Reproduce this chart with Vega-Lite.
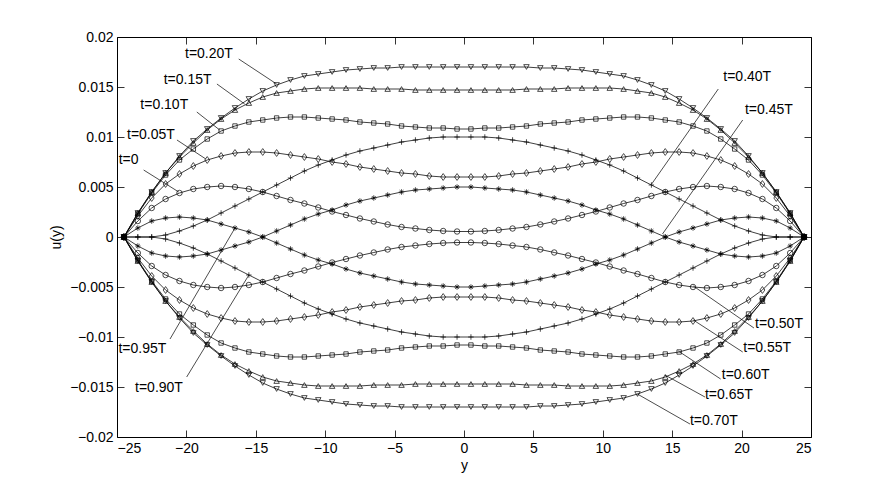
{
"$schema":"https://vega.github.io/schema/vega-lite/v6.json",
"width":694,"height":400,
"autosize":{"type":"none"},
"padding":{"left":117,"top":37,"right":85,"bottom":54},
"background":"white",
"config":{"view":{"stroke":"#000","strokeWidth":1},"axis":{"grid":false,"domain":false,"tickColor":"#000","labelColor":"#000","titleColor":"#000","labelFont":"Liberation Sans","titleFont":"Liberation Sans","labelFontSize":14,"titleFontSize":14,"titleFontWeight":"normal","tickWidth":0.8}},
"resolve":{"axis":{"x":"independent","y":"independent"}},
"datasets":{"curves":[
{"c":"00","y":-24.5,"u":0},{"c":"00","y":-23.5,"u":0.0016},{"c":"00","y":-22.5,"u":0.0029},{"c":"00","y":-21.5,"u":0.0038},{"c":"00","y":-20.5,"u":0.0044},{"c":"00","y":-19.5,"u":0.0048},{"c":"00","y":-18.5,"u":0.005},{"c":"00","y":-17.5,"u":0.0051},{"c":"00","y":-16.5,"u":0.005},{"c":"00","y":-15.5,"u":0.0048},{"c":"00","y":-14.5,"u":0.0045},{"c":"00","y":-13.5,"u":0.0041},{"c":"00","y":-12.5,"u":0.0037},{"c":"00","y":-11.5,"u":0.00335},{"c":"00","y":-10.5,"u":0.00295},{"c":"00","y":-9.5,"u":0.00255},{"c":"00","y":-8.5,"u":0.0022},{"c":"00","y":-7.5,"u":0.00185},{"c":"00","y":-6.5,"u":0.00155},{"c":"00","y":-5.5,"u":0.00125},{"c":"00","y":-4.5,"u":0.001},{"c":"00","y":-3.5,"u":0.00085},{"c":"00","y":-2.5,"u":0.0007},{"c":"00","y":-1.5,"u":0.0006},{"c":"00","y":-0.5,"u":0.00055},
{"c":"00","y":0.5,"u":0.00055},{"c":"00","y":1.5,"u":0.0006},{"c":"00","y":2.5,"u":0.0007},{"c":"00","y":3.5,"u":0.00085},{"c":"00","y":4.5,"u":0.001},{"c":"00","y":5.5,"u":0.00125},{"c":"00","y":6.5,"u":0.00155},{"c":"00","y":7.5,"u":0.00185},{"c":"00","y":8.5,"u":0.0022},{"c":"00","y":9.5,"u":0.00255},{"c":"00","y":10.5,"u":0.00295},{"c":"00","y":11.5,"u":0.00335},{"c":"00","y":12.5,"u":0.0037},{"c":"00","y":13.5,"u":0.0041},{"c":"00","y":14.5,"u":0.0045},{"c":"00","y":15.5,"u":0.0048},{"c":"00","y":16.5,"u":0.005},{"c":"00","y":17.5,"u":0.0051},{"c":"00","y":18.5,"u":0.005},{"c":"00","y":19.5,"u":0.0048},{"c":"00","y":20.5,"u":0.0044},{"c":"00","y":21.5,"u":0.0038},{"c":"00","y":22.5,"u":0.0029},{"c":"00","y":23.5,"u":0.0016},{"c":"00","y":24.5,"u":0},
{"c":"05","y":-24.5,"u":0},{"c":"05","y":-23.5,"u":0.0021},{"c":"05","y":-22.5,"u":0.0039},{"c":"05","y":-21.5,"u":0.0053},{"c":"05","y":-20.5,"u":0.0063},{"c":"05","y":-19.5,"u":0.0071},{"c":"05","y":-18.5,"u":0.0077},{"c":"05","y":-17.5,"u":0.0081},{"c":"05","y":-16.5,"u":0.0084},{"c":"05","y":-15.5,"u":0.0085},{"c":"05","y":-14.5,"u":0.0085},{"c":"05","y":-13.5,"u":0.0084},{"c":"05","y":-12.5,"u":0.0082},{"c":"05","y":-11.5,"u":0.008},{"c":"05","y":-10.5,"u":0.0078},{"c":"05","y":-9.5,"u":0.0075},{"c":"05","y":-8.5,"u":0.0073},{"c":"05","y":-7.5,"u":0.007},{"c":"05","y":-6.5,"u":0.0068},{"c":"05","y":-5.5,"u":0.0066},{"c":"05","y":-4.5,"u":0.0064},{"c":"05","y":-3.5,"u":0.0063},{"c":"05","y":-2.5,"u":0.0061},{"c":"05","y":-1.5,"u":0.006},{"c":"05","y":-0.5,"u":0.006},
{"c":"05","y":0.5,"u":0.006},{"c":"05","y":1.5,"u":0.006},{"c":"05","y":2.5,"u":0.0061},{"c":"05","y":3.5,"u":0.0063},{"c":"05","y":4.5,"u":0.0064},{"c":"05","y":5.5,"u":0.0066},{"c":"05","y":6.5,"u":0.0068},{"c":"05","y":7.5,"u":0.007},{"c":"05","y":8.5,"u":0.0073},{"c":"05","y":9.5,"u":0.0075},{"c":"05","y":10.5,"u":0.0078},{"c":"05","y":11.5,"u":0.008},{"c":"05","y":12.5,"u":0.0082},{"c":"05","y":13.5,"u":0.0084},{"c":"05","y":14.5,"u":0.0085},{"c":"05","y":15.5,"u":0.0085},{"c":"05","y":16.5,"u":0.0084},{"c":"05","y":17.5,"u":0.0081},{"c":"05","y":18.5,"u":0.0077},{"c":"05","y":19.5,"u":0.0071},{"c":"05","y":20.5,"u":0.0063},{"c":"05","y":21.5,"u":0.0053},{"c":"05","y":22.5,"u":0.0039},{"c":"05","y":23.5,"u":0.0021},{"c":"05","y":24.5,"u":0},
{"c":"10","y":-24.5,"u":0},{"c":"10","y":-23.5,"u":0.0023},{"c":"10","y":-22.5,"u":0.0044},{"c":"10","y":-21.5,"u":0.0062},{"c":"10","y":-20.5,"u":0.0077},{"c":"10","y":-19.5,"u":0.0088},{"c":"10","y":-18.5,"u":0.0098},{"c":"10","y":-17.5,"u":0.0106},{"c":"10","y":-16.5,"u":0.0111},{"c":"10","y":-15.5,"u":0.0115},{"c":"10","y":-14.5,"u":0.0117},{"c":"10","y":-13.5,"u":0.0119},{"c":"10","y":-12.5,"u":0.012},{"c":"10","y":-11.5,"u":0.012},{"c":"10","y":-10.5,"u":0.0119},{"c":"10","y":-9.5,"u":0.0118},{"c":"10","y":-8.5,"u":0.0117},{"c":"10","y":-7.5,"u":0.0115},{"c":"10","y":-6.5,"u":0.0114},{"c":"10","y":-5.5,"u":0.0113},{"c":"10","y":-4.5,"u":0.0111},{"c":"10","y":-3.5,"u":0.011},{"c":"10","y":-2.5,"u":0.0109},{"c":"10","y":-1.5,"u":0.0109},{"c":"10","y":-0.5,"u":0.0108},
{"c":"10","y":0.5,"u":0.0108},{"c":"10","y":1.5,"u":0.0109},{"c":"10","y":2.5,"u":0.0109},{"c":"10","y":3.5,"u":0.011},{"c":"10","y":4.5,"u":0.0111},{"c":"10","y":5.5,"u":0.0113},{"c":"10","y":6.5,"u":0.0114},{"c":"10","y":7.5,"u":0.0115},{"c":"10","y":8.5,"u":0.0117},{"c":"10","y":9.5,"u":0.0118},{"c":"10","y":10.5,"u":0.0119},{"c":"10","y":11.5,"u":0.012},{"c":"10","y":12.5,"u":0.012},{"c":"10","y":13.5,"u":0.0119},{"c":"10","y":14.5,"u":0.0117},{"c":"10","y":15.5,"u":0.0115},{"c":"10","y":16.5,"u":0.0111},{"c":"10","y":17.5,"u":0.0106},{"c":"10","y":18.5,"u":0.0098},{"c":"10","y":19.5,"u":0.0088},{"c":"10","y":20.5,"u":0.0077},{"c":"10","y":21.5,"u":0.0062},{"c":"10","y":22.5,"u":0.0044},{"c":"10","y":23.5,"u":0.0023},{"c":"10","y":24.5,"u":0},
{"c":"15","y":-24.5,"u":0},{"c":"15","y":-23.5,"u":0.0024},{"c":"15","y":-22.5,"u":0.0045},{"c":"15","y":-21.5,"u":0.0064},{"c":"15","y":-20.5,"u":0.008},{"c":"15","y":-19.5,"u":0.0094},{"c":"15","y":-18.5,"u":0.0107},{"c":"15","y":-17.5,"u":0.0118},{"c":"15","y":-16.5,"u":0.0127},{"c":"15","y":-15.5,"u":0.0134},{"c":"15","y":-14.5,"u":0.014},{"c":"15","y":-13.5,"u":0.0144},{"c":"15","y":-12.5,"u":0.0146},{"c":"15","y":-11.5,"u":0.0148},{"c":"15","y":-10.5,"u":0.0149},{"c":"15","y":-9.5,"u":0.0149},{"c":"15","y":-8.5,"u":0.0149},{"c":"15","y":-7.5,"u":0.0149},{"c":"15","y":-6.5,"u":0.0148},{"c":"15","y":-5.5,"u":0.0148},{"c":"15","y":-4.5,"u":0.0148},{"c":"15","y":-3.5,"u":0.0147},{"c":"15","y":-2.5,"u":0.0147},{"c":"15","y":-1.5,"u":0.0147},{"c":"15","y":-0.5,"u":0.0147},
{"c":"15","y":0.5,"u":0.0147},{"c":"15","y":1.5,"u":0.0147},{"c":"15","y":2.5,"u":0.0147},{"c":"15","y":3.5,"u":0.0147},{"c":"15","y":4.5,"u":0.0148},{"c":"15","y":5.5,"u":0.0148},{"c":"15","y":6.5,"u":0.0148},{"c":"15","y":7.5,"u":0.0149},{"c":"15","y":8.5,"u":0.0149},{"c":"15","y":9.5,"u":0.0149},{"c":"15","y":10.5,"u":0.0149},{"c":"15","y":11.5,"u":0.0148},{"c":"15","y":12.5,"u":0.0146},{"c":"15","y":13.5,"u":0.0144},{"c":"15","y":14.5,"u":0.014},{"c":"15","y":15.5,"u":0.0134},{"c":"15","y":16.5,"u":0.0127},{"c":"15","y":17.5,"u":0.0118},{"c":"15","y":18.5,"u":0.0107},{"c":"15","y":19.5,"u":0.0094},{"c":"15","y":20.5,"u":0.008},{"c":"15","y":21.5,"u":0.0064},{"c":"15","y":22.5,"u":0.0045},{"c":"15","y":23.5,"u":0.0024},{"c":"15","y":24.5,"u":0},
{"c":"20","y":-24.5,"u":0},{"c":"20","y":-23.5,"u":0.0024},{"c":"20","y":-22.5,"u":0.0045},{"c":"20","y":-21.5,"u":0.0064},{"c":"20","y":-20.5,"u":0.0081},{"c":"20","y":-19.5,"u":0.0096},{"c":"20","y":-18.5,"u":0.0108},{"c":"20","y":-17.5,"u":0.0119},{"c":"20","y":-16.5,"u":0.0129},{"c":"20","y":-15.5,"u":0.0138},{"c":"20","y":-14.5,"u":0.0146},{"c":"20","y":-13.5,"u":0.0152},{"c":"20","y":-12.5,"u":0.0157},{"c":"20","y":-11.5,"u":0.0161},{"c":"20","y":-10.5,"u":0.0163},{"c":"20","y":-9.5,"u":0.0165},{"c":"20","y":-8.5,"u":0.0167},{"c":"20","y":-7.5,"u":0.0168},{"c":"20","y":-6.5,"u":0.0169},{"c":"20","y":-5.5,"u":0.0169},{"c":"20","y":-4.5,"u":0.017},{"c":"20","y":-3.5,"u":0.017},{"c":"20","y":-2.5,"u":0.017},{"c":"20","y":-1.5,"u":0.017},{"c":"20","y":-0.5,"u":0.017},
{"c":"20","y":0.5,"u":0.017},{"c":"20","y":1.5,"u":0.017},{"c":"20","y":2.5,"u":0.017},{"c":"20","y":3.5,"u":0.017},{"c":"20","y":4.5,"u":0.017},{"c":"20","y":5.5,"u":0.0169},{"c":"20","y":6.5,"u":0.0169},{"c":"20","y":7.5,"u":0.0168},{"c":"20","y":8.5,"u":0.0167},{"c":"20","y":9.5,"u":0.0165},{"c":"20","y":10.5,"u":0.0163},{"c":"20","y":11.5,"u":0.0161},{"c":"20","y":12.5,"u":0.0157},{"c":"20","y":13.5,"u":0.0152},{"c":"20","y":14.5,"u":0.0146},{"c":"20","y":15.5,"u":0.0138},{"c":"20","y":16.5,"u":0.0129},{"c":"20","y":17.5,"u":0.0119},{"c":"20","y":18.5,"u":0.0108},{"c":"20","y":19.5,"u":0.0096},{"c":"20","y":20.5,"u":0.0081},{"c":"20","y":21.5,"u":0.0064},{"c":"20","y":22.5,"u":0.0045},{"c":"20","y":23.5,"u":0.0024},{"c":"20","y":24.5,"u":0},
{"c":"40","y":-24.5,"u":0},{"c":"40","y":-23.5,"u":0},{"c":"40","y":-22.5,"u":0},{"c":"40","y":-21.5,"u":0.0002},{"c":"40","y":-20.5,"u":0.0006},{"c":"40","y":-19.5,"u":0.0011},{"c":"40","y":-18.5,"u":0.0017},{"c":"40","y":-17.5,"u":0.0024},{"c":"40","y":-16.5,"u":0.0031},{"c":"40","y":-15.5,"u":0.0038},{"c":"40","y":-14.5,"u":0.0045},{"c":"40","y":-13.5,"u":0.0052},{"c":"40","y":-12.5,"u":0.0059},{"c":"40","y":-11.5,"u":0.0066},{"c":"40","y":-10.5,"u":0.0072},{"c":"40","y":-9.5,"u":0.0077},{"c":"40","y":-8.5,"u":0.0082},{"c":"40","y":-7.5,"u":0.0086},{"c":"40","y":-6.5,"u":0.0089},{"c":"40","y":-5.5,"u":0.0092},{"c":"40","y":-4.5,"u":0.0095},{"c":"40","y":-3.5,"u":0.0097},{"c":"40","y":-2.5,"u":0.0099},{"c":"40","y":-1.5,"u":0.01},{"c":"40","y":-0.5,"u":0.01},
{"c":"40","y":0.5,"u":0.01},{"c":"40","y":1.5,"u":0.01},{"c":"40","y":2.5,"u":0.0099},{"c":"40","y":3.5,"u":0.0097},{"c":"40","y":4.5,"u":0.0095},{"c":"40","y":5.5,"u":0.0092},{"c":"40","y":6.5,"u":0.0089},{"c":"40","y":7.5,"u":0.0086},{"c":"40","y":8.5,"u":0.0082},{"c":"40","y":9.5,"u":0.0077},{"c":"40","y":10.5,"u":0.0072},{"c":"40","y":11.5,"u":0.0066},{"c":"40","y":12.5,"u":0.0059},{"c":"40","y":13.5,"u":0.0052},{"c":"40","y":14.5,"u":0.0045},{"c":"40","y":15.5,"u":0.0038},{"c":"40","y":16.5,"u":0.0031},{"c":"40","y":17.5,"u":0.0024},{"c":"40","y":18.5,"u":0.0017},{"c":"40","y":19.5,"u":0.0011},{"c":"40","y":20.5,"u":0.0006},{"c":"40","y":21.5,"u":0.0002},{"c":"40","y":22.5,"u":0},{"c":"40","y":23.5,"u":0},{"c":"40","y":24.5,"u":0},
{"c":"45","y":-24.5,"u":0},{"c":"45","y":-23.5,"u":-0.0009},{"c":"45","y":-22.5,"u":-0.0016},{"c":"45","y":-21.5,"u":-0.0019},{"c":"45","y":-20.5,"u":-0.002},{"c":"45","y":-19.5,"u":-0.0019},{"c":"45","y":-18.5,"u":-0.0017},{"c":"45","y":-17.5,"u":-0.0013},{"c":"45","y":-16.5,"u":-0.0009},{"c":"45","y":-15.5,"u":-0.0005},{"c":"45","y":-14.5,"u":0},{"c":"45","y":-13.5,"u":0.0006},{"c":"45","y":-12.5,"u":0.0012},{"c":"45","y":-11.5,"u":0.0018},{"c":"45","y":-10.5,"u":0.0023},{"c":"45","y":-9.5,"u":0.0027},{"c":"45","y":-8.5,"u":0.0032},{"c":"45","y":-7.5,"u":0.0036},{"c":"45","y":-6.5,"u":0.0039},{"c":"45","y":-5.5,"u":0.0042},{"c":"45","y":-4.5,"u":0.0045},{"c":"45","y":-3.5,"u":0.0047},{"c":"45","y":-2.5,"u":0.0048},{"c":"45","y":-1.5,"u":0.0049},{"c":"45","y":-0.5,"u":0.005},
{"c":"45","y":0.5,"u":0.005},{"c":"45","y":1.5,"u":0.0049},{"c":"45","y":2.5,"u":0.0048},{"c":"45","y":3.5,"u":0.0047},{"c":"45","y":4.5,"u":0.0045},{"c":"45","y":5.5,"u":0.0042},{"c":"45","y":6.5,"u":0.0039},{"c":"45","y":7.5,"u":0.0036},{"c":"45","y":8.5,"u":0.0032},{"c":"45","y":9.5,"u":0.0027},{"c":"45","y":10.5,"u":0.0023},{"c":"45","y":11.5,"u":0.0018},{"c":"45","y":12.5,"u":0.0012},{"c":"45","y":13.5,"u":0.0006},{"c":"45","y":14.5,"u":0},{"c":"45","y":15.5,"u":-0.0005},{"c":"45","y":16.5,"u":-0.0009},{"c":"45","y":17.5,"u":-0.0013},{"c":"45","y":18.5,"u":-0.0017},{"c":"45","y":19.5,"u":-0.0019},{"c":"45","y":20.5,"u":-0.002},{"c":"45","y":21.5,"u":-0.0019},{"c":"45","y":22.5,"u":-0.0016},{"c":"45","y":23.5,"u":-0.0009},{"c":"45","y":24.5,"u":0},
{"c":"50","y":-24.5,"u":0},{"c":"50","y":-23.5,"u":-0.0016},{"c":"50","y":-22.5,"u":-0.0029},{"c":"50","y":-21.5,"u":-0.0038},{"c":"50","y":-20.5,"u":-0.0044},{"c":"50","y":-19.5,"u":-0.0048},{"c":"50","y":-18.5,"u":-0.005},{"c":"50","y":-17.5,"u":-0.0051},{"c":"50","y":-16.5,"u":-0.005},{"c":"50","y":-15.5,"u":-0.0048},{"c":"50","y":-14.5,"u":-0.0045},{"c":"50","y":-13.5,"u":-0.0041},{"c":"50","y":-12.5,"u":-0.0037},{"c":"50","y":-11.5,"u":-0.00335},{"c":"50","y":-10.5,"u":-0.00295},{"c":"50","y":-9.5,"u":-0.00255},{"c":"50","y":-8.5,"u":-0.0022},{"c":"50","y":-7.5,"u":-0.00185},{"c":"50","y":-6.5,"u":-0.00155},{"c":"50","y":-5.5,"u":-0.00125},{"c":"50","y":-4.5,"u":-0.001},{"c":"50","y":-3.5,"u":-0.00085},{"c":"50","y":-2.5,"u":-0.0007},{"c":"50","y":-1.5,"u":-0.0006},{"c":"50","y":-0.5,"u":-0.00055},
{"c":"50","y":0.5,"u":-0.00055},{"c":"50","y":1.5,"u":-0.0006},{"c":"50","y":2.5,"u":-0.0007},{"c":"50","y":3.5,"u":-0.00085},{"c":"50","y":4.5,"u":-0.001},{"c":"50","y":5.5,"u":-0.00125},{"c":"50","y":6.5,"u":-0.00155},{"c":"50","y":7.5,"u":-0.00185},{"c":"50","y":8.5,"u":-0.0022},{"c":"50","y":9.5,"u":-0.00255},{"c":"50","y":10.5,"u":-0.00295},{"c":"50","y":11.5,"u":-0.00335},{"c":"50","y":12.5,"u":-0.0037},{"c":"50","y":13.5,"u":-0.0041},{"c":"50","y":14.5,"u":-0.0045},{"c":"50","y":15.5,"u":-0.0048},{"c":"50","y":16.5,"u":-0.005},{"c":"50","y":17.5,"u":-0.0051},{"c":"50","y":18.5,"u":-0.005},{"c":"50","y":19.5,"u":-0.0048},{"c":"50","y":20.5,"u":-0.0044},{"c":"50","y":21.5,"u":-0.0038},{"c":"50","y":22.5,"u":-0.0029},{"c":"50","y":23.5,"u":-0.0016},{"c":"50","y":24.5,"u":0},
{"c":"55","y":-24.5,"u":0},{"c":"55","y":-23.5,"u":-0.0021},{"c":"55","y":-22.5,"u":-0.0039},{"c":"55","y":-21.5,"u":-0.0053},{"c":"55","y":-20.5,"u":-0.0063},{"c":"55","y":-19.5,"u":-0.0071},{"c":"55","y":-18.5,"u":-0.0077},{"c":"55","y":-17.5,"u":-0.0081},{"c":"55","y":-16.5,"u":-0.0084},{"c":"55","y":-15.5,"u":-0.0085},{"c":"55","y":-14.5,"u":-0.0085},{"c":"55","y":-13.5,"u":-0.0084},{"c":"55","y":-12.5,"u":-0.0082},{"c":"55","y":-11.5,"u":-0.008},{"c":"55","y":-10.5,"u":-0.0078},{"c":"55","y":-9.5,"u":-0.0075},{"c":"55","y":-8.5,"u":-0.0073},{"c":"55","y":-7.5,"u":-0.007},{"c":"55","y":-6.5,"u":-0.0068},{"c":"55","y":-5.5,"u":-0.0066},{"c":"55","y":-4.5,"u":-0.0064},{"c":"55","y":-3.5,"u":-0.0063},{"c":"55","y":-2.5,"u":-0.0061},{"c":"55","y":-1.5,"u":-0.006},{"c":"55","y":-0.5,"u":-0.006},
{"c":"55","y":0.5,"u":-0.006},{"c":"55","y":1.5,"u":-0.006},{"c":"55","y":2.5,"u":-0.0061},{"c":"55","y":3.5,"u":-0.0063},{"c":"55","y":4.5,"u":-0.0064},{"c":"55","y":5.5,"u":-0.0066},{"c":"55","y":6.5,"u":-0.0068},{"c":"55","y":7.5,"u":-0.007},{"c":"55","y":8.5,"u":-0.0073},{"c":"55","y":9.5,"u":-0.0075},{"c":"55","y":10.5,"u":-0.0078},{"c":"55","y":11.5,"u":-0.008},{"c":"55","y":12.5,"u":-0.0082},{"c":"55","y":13.5,"u":-0.0084},{"c":"55","y":14.5,"u":-0.0085},{"c":"55","y":15.5,"u":-0.0085},{"c":"55","y":16.5,"u":-0.0084},{"c":"55","y":17.5,"u":-0.0081},{"c":"55","y":18.5,"u":-0.0077},{"c":"55","y":19.5,"u":-0.0071},{"c":"55","y":20.5,"u":-0.0063},{"c":"55","y":21.5,"u":-0.0053},{"c":"55","y":22.5,"u":-0.0039},{"c":"55","y":23.5,"u":-0.0021},{"c":"55","y":24.5,"u":0},
{"c":"60","y":-24.5,"u":0},{"c":"60","y":-23.5,"u":-0.0023},{"c":"60","y":-22.5,"u":-0.0044},{"c":"60","y":-21.5,"u":-0.0062},{"c":"60","y":-20.5,"u":-0.0077},{"c":"60","y":-19.5,"u":-0.0088},{"c":"60","y":-18.5,"u":-0.0098},{"c":"60","y":-17.5,"u":-0.0106},{"c":"60","y":-16.5,"u":-0.0111},{"c":"60","y":-15.5,"u":-0.0115},{"c":"60","y":-14.5,"u":-0.0117},{"c":"60","y":-13.5,"u":-0.0119},{"c":"60","y":-12.5,"u":-0.012},{"c":"60","y":-11.5,"u":-0.012},{"c":"60","y":-10.5,"u":-0.0119},{"c":"60","y":-9.5,"u":-0.0118},{"c":"60","y":-8.5,"u":-0.0117},{"c":"60","y":-7.5,"u":-0.0115},{"c":"60","y":-6.5,"u":-0.0114},{"c":"60","y":-5.5,"u":-0.0113},{"c":"60","y":-4.5,"u":-0.0111},{"c":"60","y":-3.5,"u":-0.011},{"c":"60","y":-2.5,"u":-0.0109},{"c":"60","y":-1.5,"u":-0.0109},{"c":"60","y":-0.5,"u":-0.0108},
{"c":"60","y":0.5,"u":-0.0108},{"c":"60","y":1.5,"u":-0.0109},{"c":"60","y":2.5,"u":-0.0109},{"c":"60","y":3.5,"u":-0.011},{"c":"60","y":4.5,"u":-0.0111},{"c":"60","y":5.5,"u":-0.0113},{"c":"60","y":6.5,"u":-0.0114},{"c":"60","y":7.5,"u":-0.0115},{"c":"60","y":8.5,"u":-0.0117},{"c":"60","y":9.5,"u":-0.0118},{"c":"60","y":10.5,"u":-0.0119},{"c":"60","y":11.5,"u":-0.012},{"c":"60","y":12.5,"u":-0.012},{"c":"60","y":13.5,"u":-0.0119},{"c":"60","y":14.5,"u":-0.0117},{"c":"60","y":15.5,"u":-0.0115},{"c":"60","y":16.5,"u":-0.0111},{"c":"60","y":17.5,"u":-0.0106},{"c":"60","y":18.5,"u":-0.0098},{"c":"60","y":19.5,"u":-0.0088},{"c":"60","y":20.5,"u":-0.0077},{"c":"60","y":21.5,"u":-0.0062},{"c":"60","y":22.5,"u":-0.0044},{"c":"60","y":23.5,"u":-0.0023},{"c":"60","y":24.5,"u":0},
{"c":"65","y":-24.5,"u":0},{"c":"65","y":-23.5,"u":-0.0024},{"c":"65","y":-22.5,"u":-0.0045},{"c":"65","y":-21.5,"u":-0.0064},{"c":"65","y":-20.5,"u":-0.008},{"c":"65","y":-19.5,"u":-0.0094},{"c":"65","y":-18.5,"u":-0.0107},{"c":"65","y":-17.5,"u":-0.0118},{"c":"65","y":-16.5,"u":-0.0127},{"c":"65","y":-15.5,"u":-0.0134},{"c":"65","y":-14.5,"u":-0.014},{"c":"65","y":-13.5,"u":-0.0144},{"c":"65","y":-12.5,"u":-0.0146},{"c":"65","y":-11.5,"u":-0.0148},{"c":"65","y":-10.5,"u":-0.0149},{"c":"65","y":-9.5,"u":-0.0149},{"c":"65","y":-8.5,"u":-0.0149},{"c":"65","y":-7.5,"u":-0.0149},{"c":"65","y":-6.5,"u":-0.0148},{"c":"65","y":-5.5,"u":-0.0148},{"c":"65","y":-4.5,"u":-0.0148},{"c":"65","y":-3.5,"u":-0.0147},{"c":"65","y":-2.5,"u":-0.0147},{"c":"65","y":-1.5,"u":-0.0147},{"c":"65","y":-0.5,"u":-0.0147},
{"c":"65","y":0.5,"u":-0.0147},{"c":"65","y":1.5,"u":-0.0147},{"c":"65","y":2.5,"u":-0.0147},{"c":"65","y":3.5,"u":-0.0147},{"c":"65","y":4.5,"u":-0.0148},{"c":"65","y":5.5,"u":-0.0148},{"c":"65","y":6.5,"u":-0.0148},{"c":"65","y":7.5,"u":-0.0149},{"c":"65","y":8.5,"u":-0.0149},{"c":"65","y":9.5,"u":-0.0149},{"c":"65","y":10.5,"u":-0.0149},{"c":"65","y":11.5,"u":-0.0148},{"c":"65","y":12.5,"u":-0.0146},{"c":"65","y":13.5,"u":-0.0144},{"c":"65","y":14.5,"u":-0.014},{"c":"65","y":15.5,"u":-0.0134},{"c":"65","y":16.5,"u":-0.0127},{"c":"65","y":17.5,"u":-0.0118},{"c":"65","y":18.5,"u":-0.0107},{"c":"65","y":19.5,"u":-0.0094},{"c":"65","y":20.5,"u":-0.008},{"c":"65","y":21.5,"u":-0.0064},{"c":"65","y":22.5,"u":-0.0045},{"c":"65","y":23.5,"u":-0.0024},{"c":"65","y":24.5,"u":0},
{"c":"70","y":-24.5,"u":0},{"c":"70","y":-23.5,"u":-0.0024},{"c":"70","y":-22.5,"u":-0.0045},{"c":"70","y":-21.5,"u":-0.0064},{"c":"70","y":-20.5,"u":-0.0081},{"c":"70","y":-19.5,"u":-0.0096},{"c":"70","y":-18.5,"u":-0.0108},{"c":"70","y":-17.5,"u":-0.0119},{"c":"70","y":-16.5,"u":-0.0129},{"c":"70","y":-15.5,"u":-0.0138},{"c":"70","y":-14.5,"u":-0.0146},{"c":"70","y":-13.5,"u":-0.0152},{"c":"70","y":-12.5,"u":-0.0157},{"c":"70","y":-11.5,"u":-0.0161},{"c":"70","y":-10.5,"u":-0.0163},{"c":"70","y":-9.5,"u":-0.0165},{"c":"70","y":-8.5,"u":-0.0167},{"c":"70","y":-7.5,"u":-0.0168},{"c":"70","y":-6.5,"u":-0.0169},{"c":"70","y":-5.5,"u":-0.0169},{"c":"70","y":-4.5,"u":-0.017},{"c":"70","y":-3.5,"u":-0.017},{"c":"70","y":-2.5,"u":-0.017},{"c":"70","y":-1.5,"u":-0.017},{"c":"70","y":-0.5,"u":-0.017},
{"c":"70","y":0.5,"u":-0.017},{"c":"70","y":1.5,"u":-0.017},{"c":"70","y":2.5,"u":-0.017},{"c":"70","y":3.5,"u":-0.017},{"c":"70","y":4.5,"u":-0.017},{"c":"70","y":5.5,"u":-0.0169},{"c":"70","y":6.5,"u":-0.0169},{"c":"70","y":7.5,"u":-0.0168},{"c":"70","y":8.5,"u":-0.0167},{"c":"70","y":9.5,"u":-0.0165},{"c":"70","y":10.5,"u":-0.0163},{"c":"70","y":11.5,"u":-0.0161},{"c":"70","y":12.5,"u":-0.0157},{"c":"70","y":13.5,"u":-0.0152},{"c":"70","y":14.5,"u":-0.0146},{"c":"70","y":15.5,"u":-0.0138},{"c":"70","y":16.5,"u":-0.0129},{"c":"70","y":17.5,"u":-0.0119},{"c":"70","y":18.5,"u":-0.0108},{"c":"70","y":19.5,"u":-0.0096},{"c":"70","y":20.5,"u":-0.0081},{"c":"70","y":21.5,"u":-0.0064},{"c":"70","y":22.5,"u":-0.0045},{"c":"70","y":23.5,"u":-0.0024},{"c":"70","y":24.5,"u":0},
{"c":"90","y":-24.5,"u":0},{"c":"90","y":-23.5,"u":0},{"c":"90","y":-22.5,"u":0},{"c":"90","y":-21.5,"u":-0.0002},{"c":"90","y":-20.5,"u":-0.0006},{"c":"90","y":-19.5,"u":-0.0011},{"c":"90","y":-18.5,"u":-0.0017},{"c":"90","y":-17.5,"u":-0.0024},{"c":"90","y":-16.5,"u":-0.0031},{"c":"90","y":-15.5,"u":-0.0038},{"c":"90","y":-14.5,"u":-0.0045},{"c":"90","y":-13.5,"u":-0.0052},{"c":"90","y":-12.5,"u":-0.0059},{"c":"90","y":-11.5,"u":-0.0066},{"c":"90","y":-10.5,"u":-0.0072},{"c":"90","y":-9.5,"u":-0.0077},{"c":"90","y":-8.5,"u":-0.0082},{"c":"90","y":-7.5,"u":-0.0086},{"c":"90","y":-6.5,"u":-0.0089},{"c":"90","y":-5.5,"u":-0.0092},{"c":"90","y":-4.5,"u":-0.0095},{"c":"90","y":-3.5,"u":-0.0097},{"c":"90","y":-2.5,"u":-0.0099},{"c":"90","y":-1.5,"u":-0.01},{"c":"90","y":-0.5,"u":-0.01},
{"c":"90","y":0.5,"u":-0.01},{"c":"90","y":1.5,"u":-0.01},{"c":"90","y":2.5,"u":-0.0099},{"c":"90","y":3.5,"u":-0.0097},{"c":"90","y":4.5,"u":-0.0095},{"c":"90","y":5.5,"u":-0.0092},{"c":"90","y":6.5,"u":-0.0089},{"c":"90","y":7.5,"u":-0.0086},{"c":"90","y":8.5,"u":-0.0082},{"c":"90","y":9.5,"u":-0.0077},{"c":"90","y":10.5,"u":-0.0072},{"c":"90","y":11.5,"u":-0.0066},{"c":"90","y":12.5,"u":-0.0059},{"c":"90","y":13.5,"u":-0.0052},{"c":"90","y":14.5,"u":-0.0045},{"c":"90","y":15.5,"u":-0.0038},{"c":"90","y":16.5,"u":-0.0031},{"c":"90","y":17.5,"u":-0.0024},{"c":"90","y":18.5,"u":-0.0017},{"c":"90","y":19.5,"u":-0.0011},{"c":"90","y":20.5,"u":-0.0006},{"c":"90","y":21.5,"u":-0.0002},{"c":"90","y":22.5,"u":0},{"c":"90","y":23.5,"u":0},{"c":"90","y":24.5,"u":0},
{"c":"95","y":-24.5,"u":0},{"c":"95","y":-23.5,"u":0.0009},{"c":"95","y":-22.5,"u":0.0016},{"c":"95","y":-21.5,"u":0.0019},{"c":"95","y":-20.5,"u":0.002},{"c":"95","y":-19.5,"u":0.0019},{"c":"95","y":-18.5,"u":0.0017},{"c":"95","y":-17.5,"u":0.0013},{"c":"95","y":-16.5,"u":0.0009},{"c":"95","y":-15.5,"u":0.0005},{"c":"95","y":-14.5,"u":0},{"c":"95","y":-13.5,"u":-0.0006},{"c":"95","y":-12.5,"u":-0.0012},{"c":"95","y":-11.5,"u":-0.0018},{"c":"95","y":-10.5,"u":-0.0023},{"c":"95","y":-9.5,"u":-0.0027},{"c":"95","y":-8.5,"u":-0.0032},{"c":"95","y":-7.5,"u":-0.0036},{"c":"95","y":-6.5,"u":-0.0039},{"c":"95","y":-5.5,"u":-0.0042},{"c":"95","y":-4.5,"u":-0.0045},{"c":"95","y":-3.5,"u":-0.0047},{"c":"95","y":-2.5,"u":-0.0048},{"c":"95","y":-1.5,"u":-0.0049},{"c":"95","y":-0.5,"u":-0.005},
{"c":"95","y":0.5,"u":-0.005},{"c":"95","y":1.5,"u":-0.0049},{"c":"95","y":2.5,"u":-0.0048},{"c":"95","y":3.5,"u":-0.0047},{"c":"95","y":4.5,"u":-0.0045},{"c":"95","y":5.5,"u":-0.0042},{"c":"95","y":6.5,"u":-0.0039},{"c":"95","y":7.5,"u":-0.0036},{"c":"95","y":8.5,"u":-0.0032},{"c":"95","y":9.5,"u":-0.0027},{"c":"95","y":10.5,"u":-0.0023},{"c":"95","y":11.5,"u":-0.0018},{"c":"95","y":12.5,"u":-0.0012},{"c":"95","y":13.5,"u":-0.0006},{"c":"95","y":14.5,"u":0},{"c":"95","y":15.5,"u":0.0005},{"c":"95","y":16.5,"u":0.0009},{"c":"95","y":17.5,"u":0.0013},{"c":"95","y":18.5,"u":0.0017},{"c":"95","y":19.5,"u":0.0019},{"c":"95","y":20.5,"u":0.002},{"c":"95","y":21.5,"u":0.0019},{"c":"95","y":22.5,"u":0.0016},{"c":"95","y":23.5,"u":0.0009},{"c":"95","y":24.5,"u":0}
]},
"layer":[
{"data":{"name":"curves"},
"mark":{"type":"line","stroke":"#000","strokeWidth":0.75},
"encoding":{
"x":{"field":"y","type":"quantitative","scale":{"domain":[-25,25],"nice":false,"zero":false},"axis":{"orient":"bottom","values":[-25,-20,-15,-10,-5,0,5,10,15,20,25],"format":"d","tickSize":-7,"labelPadding":11,"title":"y","titlePadding":3}},
"y":{"field":"u","type":"quantitative","scale":{"domain":[-0.02,0.02],"nice":false,"zero":false},"axis":{"orient":"left","values":[-0.02,-0.015,-0.01,-0.005,0,0.005,0.01,0.015,0.02],"format":"~g","tickSize":-7,"labelPadding":11,"title":"u(y)","titlePadding":6}},
"detail":{"field":"c","type":"nominal"}}},
{"data":{"name":"curves"},
"mark":{"type":"point","filled":false,"stroke":"#000","strokeWidth":0.7,"size":30,"opacity":1},
"encoding":{
"x":{"field":"y","type":"quantitative","scale":{"domain":[-25,25],"nice":false,"zero":false},"axis":null},
"y":{"field":"u","type":"quantitative","scale":{"domain":[-0.02,0.02],"nice":false,"zero":false},"axis":null},
"shape":{"field":"c","type":"nominal","legend":null,"scale":{"domain":["00","05","10","15","20","40","45","50","55","60","65","70","90","95"],"range":["circle","M0,-1.25L0.9,0L0,1.25L-0.9,0Z","M-0.8,-0.8L0.8,-0.8L0.8,0.8L-0.8,0.8Z","triangle-up","triangle-down","M-1,0L1,0M0,-1L0,1","M-1,0L1,0M0,-1L0,1M-0.7,-0.7L0.7,0.7M-0.7,0.7L0.7,-0.7","circle","M0,-1.25L0.9,0L0,1.25L-0.9,0Z","M-0.8,-0.8L0.8,-0.8L0.8,0.8L-0.8,0.8Z","triangle-up","triangle-down","M-1,0L1,0M0,-1L0,1","M-1,0L1,0M0,-1L0,1M-0.7,-0.7L0.7,0.7M-0.7,0.7L0.7,-0.7"]}}}},
{"data":{"values":[
{"x":-16.23,"v":0.0178,"x2":-13.5,"v2":0.0153},
{"x":-17.8,"v":0.0153,"x2":-15.8,"v2":0.0133},
{"x":-19.25,"v":0.0125,"x2":-17.6,"v2":0.0107},
{"x":-20.68,"v":0.0097,"x2":-18.6,"v2":0.0078},
{"x":-23.08,"v":0.0067,"x2":-20.55,"v2":0.0045},
{"x":18.32,"v":0.0148,"x2":13.52,"v2":0.0053},
{"x":20.08,"v":0.0117,"x2":14.3,"v2":0.0003},
{"x":20.89,"v":-0.0091,"x2":16.52,"v2":-0.0049},
{"x":20.08,"v":-0.0115,"x2":16.52,"v2":-0.0083},
{"x":18.49,"v":-0.0142,"x2":15.44,"v2":-0.0114},
{"x":17.36,"v":-0.016,"x2":14.48,"v2":-0.0138},
{"x":16.28,"v":-0.0187,"x2":12.49,"v2":-0.0157},
{"x":-21.18,"v":-0.0102,"x2":-16.5,"v2":0.0009},
{"x":-19.98,"v":-0.014,"x2":-15.5,"v2":-0.0038}
]},
"mark":{"type":"rule","stroke":"#000","strokeWidth":0.7},
"encoding":{
"x":{"field":"x","type":"quantitative","scale":{"domain":[-25,25],"nice":false,"zero":false},"axis":{"orient":"top","values":[-25,-20,-15,-10,-5,0,5,10,15,20,25],"labels":false,"title":null,"tickSize":-7}},
"y":{"field":"v","type":"quantitative","scale":{"domain":[-0.02,0.02],"nice":false,"zero":false},"axis":{"orient":"right","values":[-0.02,-0.015,-0.01,-0.005,0,0.005,0.01,0.015,0.02],"labels":false,"title":null,"tickSize":-7}},
"x2":{"field":"x2"},"y2":{"field":"v2"}}},
{"data":{"values":[
{"x":-20.1,"v":0.0183,"t":"t=0.20T"},
{"x":-21.64,"v":0.01567,"t":"t=0.15T"},
{"x":-23.32,"v":0.01317,"t":"t=0.10T"},
{"x":-24.28,"v":0.01017,"t":"t=0.05T"},
{"x":-24.88,"v":0.00767,"t":"t=0"},
{"x":18.68,"v":0.016,"t":"t=0.40T"},
{"x":20.24,"v":0.01267,"t":"t=0.45T"},
{"x":20.97,"v":-0.00873,"t":"t=0.50T"},
{"x":20.12,"v":-0.01106,"t":"t=0.55T"},
{"x":18.57,"v":-0.01377,"t":"t=0.60T"},
{"x":17.36,"v":-0.01583,"t":"t=0.65T"},
{"x":16.28,"v":-0.0184,"t":"t=0.70T"},
{"x":-24.9,"v":-0.01117,"t":"t=0.95T"},
{"x":-23.7,"v":-0.01507,"t":"t=0.90T"}
]},
"mark":{"type":"text","align":"left","baseline":"middle","font":"Liberation Sans","fontSize":14,"color":"#000"},
"encoding":{
"x":{"field":"x","type":"quantitative","scale":{"domain":[-25,25],"nice":false,"zero":false},"axis":null},
"y":{"field":"v","type":"quantitative","scale":{"domain":[-0.02,0.02],"nice":false,"zero":false},"axis":null},
"text":{"field":"t"}}}
]
}
